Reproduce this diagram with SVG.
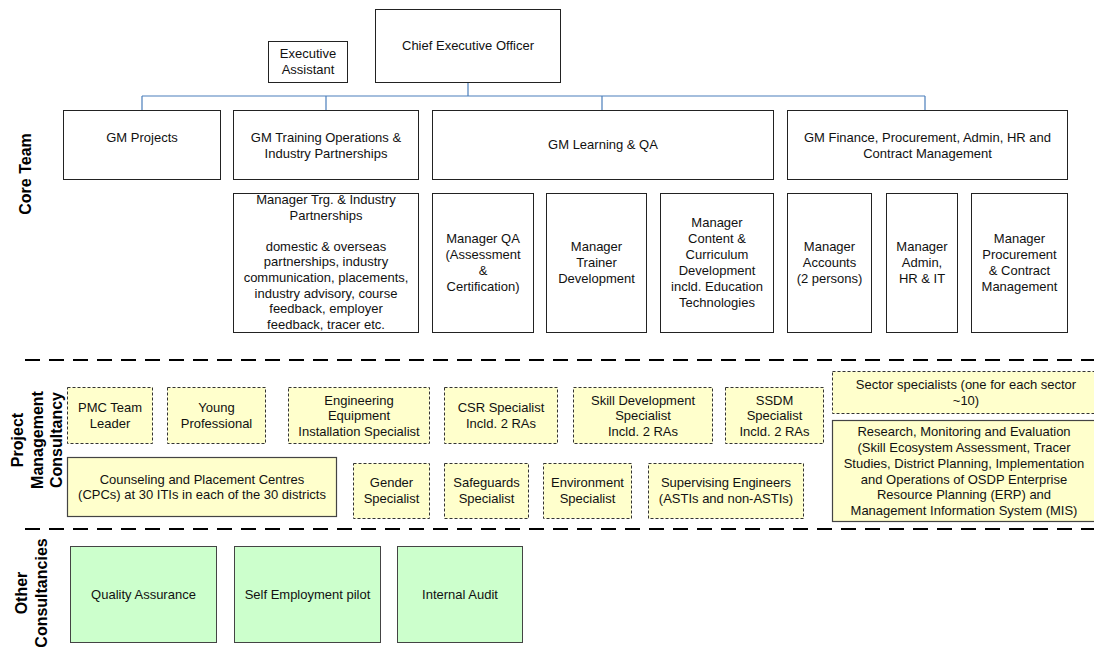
<svg xmlns="http://www.w3.org/2000/svg" width="1094" height="648" viewBox="0 0 1094 648">
<style>
.box{fill:#fff;stroke:#222;stroke-width:1}
.pmc{fill:#FFFFCC;stroke:#333;stroke-width:1;stroke-dasharray:3,2}
.pmcs{fill:#FFFFCC;stroke:#444;stroke-width:1.2}
.oc{fill:#CCFFCC;stroke:#444;stroke-width:1}
.t{font-family:"Liberation Sans",Arial,sans-serif;font-size:13px;fill:#111;text-anchor:middle}
.lbl{font-family:"Liberation Sans",Arial,sans-serif;font-size:16px;font-weight:bold;fill:#000;text-anchor:middle}
.con{stroke:#4A7EBB;stroke-width:1.2;fill:none}
.sep{stroke:#000;stroke-width:2;stroke-dasharray:15,9;fill:none}
</style>
<rect width="1094" height="648" fill="#fff"/>

<g id="separators">
<line class="sep" x1="25" y1="360" x2="1094" y2="360"/>
<line class="sep" x1="25" y1="529" x2="1094" y2="529"/>
</g>

<g id="labels">
<text class="lbl" transform="translate(31,174) rotate(-90)">Core Team</text>
<text class="lbl" transform="translate(23,440) rotate(-90)"><tspan x="0" y="0">Project</tspan><tspan x="0" y="19.5">Management</tspan><tspan x="0" y="39">Consultancy</tspan></text>
<text class="lbl" transform="translate(27,593) rotate(-90)"><tspan x="0" y="0">Other</tspan><tspan x="0" y="19.5">Consultancies</tspan></text>
</g>

<g id="connectors">
<line class="con" x1="468" y1="82" x2="468" y2="96" stroke-width="2.2"/>
<line class="con" x1="142" y1="96" x2="925" y2="96"/>
<line class="con" x1="142" y1="96" x2="142" y2="110"/>
<line class="con" x1="326" y1="96" x2="326" y2="110"/>
<line class="con" x1="602" y1="96" x2="602" y2="110"/>
<line class="con" x1="925" y1="96" x2="925" y2="110"/>
</g>

<g id="ceo"><rect class="box" x="375.5" y="9.5" width="185" height="73"/><text class="t" x="468" y="50">Chief Executive Officer</text></g>
<g id="ea"><rect class="box" x="268.5" y="41.5" width="79" height="41"/><text class="t"><tspan x="308" y="58">Executive</tspan><tspan x="308" y="74">Assistant</tspan></text></g>

<g id="gm-projects"><rect class="box" x="63.5" y="110.5" width="157" height="69"/><text class="t" x="142" y="141.5">GM Projects</text></g>
<g id="gm-training"><rect class="box" x="233.5" y="110.5" width="185" height="69"/><text class="t"><tspan x="326" y="141.5">GM Training Operations &amp;</tspan><tspan x="326" y="157.5">Industry Partnerships</tspan></text></g>
<g id="gm-learning"><rect class="box" x="432.5" y="110.5" width="341" height="69"/><text class="t" x="603" y="149">GM Learning &amp; QA</text></g>
<g id="gm-finance"><rect class="box" x="787.5" y="110.5" width="280" height="69"/><text class="t"><tspan x="927.5" y="141.5">GM Finance, Procurement, Admin, HR and</tspan><tspan x="927.5" y="157.5">Contract Management</tspan></text></g>

<g id="mgr-trg"><rect class="box" x="233.5" y="193.5" width="185" height="139"/><text class="t"><tspan x="326" y="204">Manager Trg. &amp; Industry</tspan><tspan x="326" y="219.6">Partnerships</tspan><tspan x="326" y="250.8">domestic &amp; overseas</tspan><tspan x="326" y="266.4">partnerships, industry</tspan><tspan x="326" y="282">communication, placements,</tspan><tspan x="326" y="297.6">industry advisory, course</tspan><tspan x="326" y="313.2">feedback, employer</tspan><tspan x="326" y="328.8">feedback, tracer etc.</tspan></text></g>
<g id="mgr-qa"><rect class="box" x="432.5" y="193.5" width="101" height="139"/><text class="t"><tspan x="483" y="243.2">Manager QA</tspan><tspan x="483" y="259.1">(Assessment</tspan><tspan x="483" y="275">&amp;</tspan><tspan x="483" y="290.9">Certification)</tspan></text></g>
<g id="mgr-trainer"><rect class="box" x="546.5" y="193.5" width="100" height="139"/><text class="t"><tspan x="596.5" y="251.1">Manager</tspan><tspan x="596.5" y="267">Trainer</tspan><tspan x="596.5" y="282.9">Development</tspan></text></g>
<g id="mgr-content"><rect class="box" x="660.5" y="193.5" width="113" height="139"/><text class="t"><tspan x="717" y="227.3">Manager</tspan><tspan x="717" y="243.2">Content &amp;</tspan><tspan x="717" y="259.1">Curriculum</tspan><tspan x="717" y="275">Development</tspan><tspan x="717" y="290.9">incld. Education</tspan><tspan x="717" y="306.8">Technologies</tspan></text></g>
<g id="mgr-accounts"><rect class="box" x="787.5" y="193.5" width="84" height="139"/><text class="t"><tspan x="829.5" y="251.1">Manager</tspan><tspan x="829.5" y="267">Accounts</tspan><tspan x="829.5" y="282.9">(2 persons)</tspan></text></g>
<g id="mgr-admin"><rect class="box" x="886.5" y="193.5" width="71" height="139"/><text class="t"><tspan x="922" y="251.1">Manager</tspan><tspan x="922" y="267">Admin,</tspan><tspan x="922" y="282.9">HR &amp; IT</tspan></text></g>
<g id="mgr-procurement"><rect class="box" x="971.5" y="193.5" width="96" height="139"/><text class="t"><tspan x="1019.5" y="243.2">Manager</tspan><tspan x="1019.5" y="259.1">Procurement</tspan><tspan x="1019.5" y="275">&amp; Contract</tspan><tspan x="1019.5" y="290.9">Management</tspan></text></g>

<g id="pmc-leader"><rect class="pmc" x="67.5" y="387.5" width="85" height="56"/><text class="t"><tspan x="110" y="412.3">PMC Team</tspan><tspan x="110" y="427.8">Leader</tspan></text></g>
<g id="young-prof"><rect class="pmc" x="167.5" y="387.5" width="98" height="56"/><text class="t"><tspan x="216.5" y="412.3">Young</tspan><tspan x="216.5" y="427.8">Professional</tspan></text></g>
<g id="eng-equip"><rect class="pmc" x="288.5" y="387.5" width="141" height="56"/><text class="t"><tspan x="359" y="404.5">Engineering</tspan><tspan x="359" y="420">Equipment</tspan><tspan x="359" y="435.5">Installation Specialist</tspan></text></g>
<g id="csr"><rect class="pmc" x="444.5" y="387.5" width="113" height="56"/><text class="t"><tspan x="501" y="412.3">CSR Specialist</tspan><tspan x="501" y="427.8">Incld. 2 RAs</tspan></text></g>
<g id="skill-dev"><rect class="pmc" x="573.5" y="387.5" width="139" height="56"/><text class="t"><tspan x="643" y="404.5">Skill Development</tspan><tspan x="643" y="420">Specialist</tspan><tspan x="643" y="435.5">Incld. 2 RAs</tspan></text></g>
<g id="ssdm"><rect class="pmc" x="725.5" y="387.5" width="98" height="56"/><text class="t"><tspan x="774.5" y="404.5">SSDM</tspan><tspan x="774.5" y="420">Specialist</tspan><tspan x="774.5" y="435.5">Incld. 2 RAs</tspan></text></g>
<g id="sector"><rect class="pmc" x="832.5" y="371.5" width="270" height="42"/><text class="t"><tspan x="966" y="388.5">Sector specialists (one for each sector</tspan><tspan x="966" y="405">~10)</tspan></text></g>
<g id="research"><rect class="pmcs" x="832.5" y="420.5" width="270" height="101"/><text class="t"><tspan x="964" y="435.8">Research, Monitoring and Evaluation</tspan><tspan x="964" y="451.7">(Skill Ecosystem Assessment, Tracer</tspan><tspan x="964" y="467.6">Studies, District Planning, Implementation</tspan><tspan x="964" y="483.5">and Operations of OSDP Enterprise</tspan><tspan x="964" y="499.4">Resource Planning (ERP) and</tspan><tspan x="964" y="515.3">Management Information System (MIS)</tspan></text></g>

<g id="cpcs"><rect class="pmcs" x="67.5" y="457.5" width="269" height="59"/><text class="t"><tspan x="202" y="483.8">Counseling and Placement Centres</tspan><tspan x="202" y="499.3">(CPCs) at 30 ITIs in each of the 30 districts</tspan></text></g>
<g id="gender"><rect class="pmc" x="353.5" y="463.5" width="76" height="55"/><text class="t"><tspan x="391.5" y="487.3">Gender</tspan><tspan x="391.5" y="502.8">Specialist</tspan></text></g>
<g id="safeguards"><rect class="pmc" x="444.5" y="463.5" width="84" height="55"/><text class="t"><tspan x="486.5" y="487.3">Safeguards</tspan><tspan x="486.5" y="502.8">Specialist</tspan></text></g>
<g id="environment"><rect class="pmc" x="543.5" y="463.5" width="88" height="55"/><text class="t"><tspan x="587.5" y="487.3">Environment</tspan><tspan x="587.5" y="502.8">Specialist</tspan></text></g>
<g id="supervising"><rect class="pmc" x="648.5" y="463.5" width="155" height="55"/><text class="t"><tspan x="726" y="487.3">Supervising Engineers</tspan><tspan x="726" y="502.8">(ASTIs and non-ASTIs)</tspan></text></g>

<g id="oc-qa"><rect class="oc" x="70.5" y="546.5" width="146" height="96"/><text class="t" x="143.5" y="598.5">Quality Assurance</text></g>
<g id="oc-self"><rect class="oc" x="234.5" y="546.5" width="146" height="96"/><text class="t" x="307.5" y="598.5">Self Employment pilot</text></g>
<g id="oc-audit"><rect class="oc" x="397.5" y="546.5" width="125" height="96"/><text class="t" x="460" y="598.5">Internal Audit</text></g>
</svg>
